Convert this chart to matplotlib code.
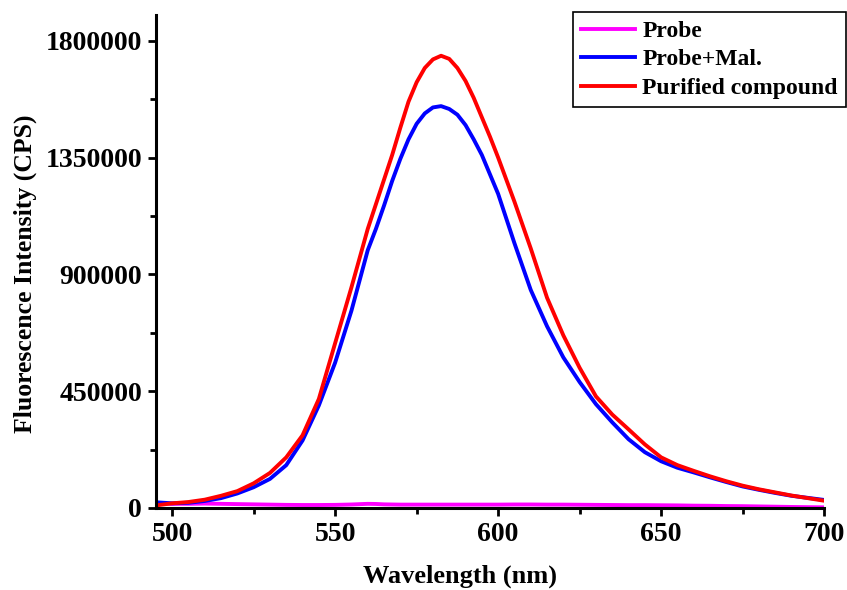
import numpy as np
import matplotlib
matplotlib.use('Agg')
import matplotlib.pyplot as plt
from matplotlib.ticker import MultipleLocator, FormatStrFormatter

plt.rcParams['font.family'] = ['Liberation Serif', 'DejaVu Serif']
plt.rcParams['font.weight'] = 'bold'

# emission spectra, intensity in CPS
wavelength = [495, 500, 505, 510, 515, 520, 525, 530, 535, 540, 545, 550, 555, 560,
              562.5, 565, 567.5, 570, 572.5, 575, 577.5, 580, 582.5, 585, 587.5, 590,
              592.5, 595, 597.5, 600, 605, 610, 615, 620, 625, 630, 635, 640, 645, 650,
              655, 660, 665, 670, 675, 680, 685, 690, 695, 700]

probe = [17000, 16000, 16000, 17000, 16000, 15000, 14000, 13000, 12000, 11500, 11500,
         12000, 13500, 16000, 15500, 14000, 13500, 13000, 13000, 13000, 13000, 13000,
         13000, 13000, 13000, 13000, 13000, 13000, 13000, 13000, 13500, 13500, 13000,
         13000, 12500, 12000, 11500, 11000, 11000, 10500, 10000, 9000, 8500, 7500,
         7000, 6000, 5000, 4000, 3200, 2500]

probe_mal = [22000, 18000, 20000, 27000, 38000, 56000, 80000, 112000, 165000, 260000,
             395000, 560000, 760000, 993000, 1075000, 1165000, 1260000, 1345000,
             1420000, 1480000, 1520000, 1543000, 1548000, 1537000, 1515000, 1475000,
             1420000, 1360000, 1285000, 1210000, 1020000, 840000, 700000, 580000,
             485000, 400000, 330000, 265000, 215000, 180000, 155000, 137000, 118000,
             100000, 83000, 70000, 58000, 47000, 39000, 31000]

purified = [10000, 18000, 23000, 32000, 47000, 65000, 95000, 135000, 195000, 280000,
            420000, 635000, 850000, 1075000, 1170000, 1265000, 1360000, 1465000,
            1565000, 1640000, 1695000, 1728000, 1742000, 1730000, 1695000, 1645000,
            1580000, 1505000, 1430000, 1350000, 1180000, 1000000, 810000, 665000,
            540000, 430000, 360000, 303000, 245000, 195000, 165000, 143000, 122000,
            103000, 86000, 72000, 60000, 48000, 38000, 28000]

fig = plt.figure(figsize=(8.47, 5.90), dpi=100)
ax = fig.add_axes([0.184, 0.139, 0.789, 0.836])

ax.plot(wavelength, probe, color='#ff00ff', lw=2.8, label='Probe')
ax.plot(wavelength, probe_mal, color='#0000ff', lw=2.8, label='Probe+Mal.')
ax.plot(wavelength, purified, color='#ff0000', lw=2.8, label='Purified compound')

ax.set_xlim(495, 700)
ax.set_ylim(0, 1900000)
ax.xaxis.set_major_locator(MultipleLocator(50))
ax.xaxis.set_minor_locator(MultipleLocator(25))
ax.yaxis.set_major_locator(MultipleLocator(450000))
ax.yaxis.set_minor_locator(MultipleLocator(225000))
ax.yaxis.set_major_formatter(FormatStrFormatter('%d'))

for side in ['top', 'right']:
    ax.spines[side].set_visible(False)
for side in ['left', 'bottom']:
    ax.spines[side].set_linewidth(2.2)

ax.tick_params(which='major', direction='out', length=6, width=2, labelsize=20, pad=4)
ax.tick_params(which='minor', direction='out', length=4, width=2)

ax.set_xlabel('Wavelength (nm)', fontsize=19, fontweight='bold')
ax.set_ylabel('Fluorescence Intensity (CPS)', fontsize=18.5, fontweight='bold')
ax.xaxis.set_label_coords(0.455, -0.114)
ax.yaxis.set_label_coords(-0.178, 0.475)

leg = ax.legend(loc='upper right', bbox_to_anchor=(846 / 847, 578 / 590),
                bbox_transform=fig.transFigure, fontsize=17, frameon=True,
                fancybox=False, edgecolor='black', framealpha=1, borderaxespad=0,
                handlelength=2.3, handletextpad=0.3, labelspacing=0.3,
                borderpad=0.35)
leg.get_frame().set_linewidth(1.2)

fig.savefig('out.png', dpi=100)
